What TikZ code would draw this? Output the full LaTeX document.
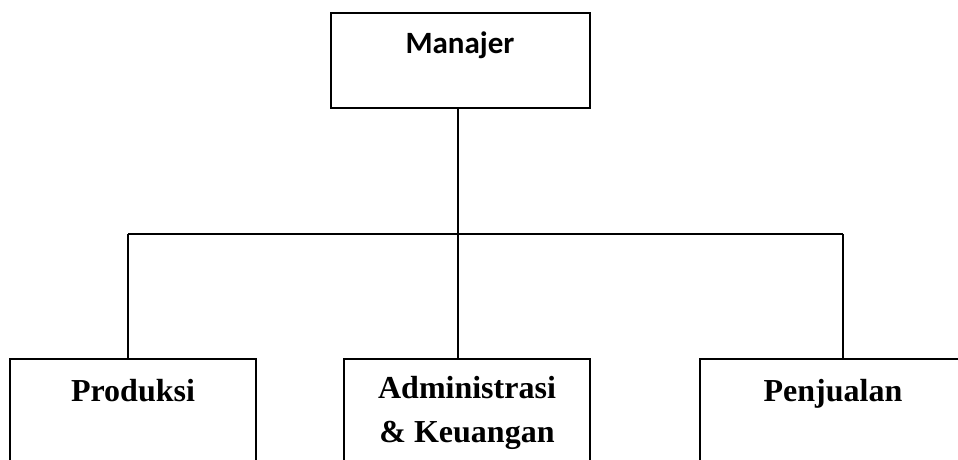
\documentclass[tikz,border=0pt]{standalone}
\usepackage{fontspec}
\setmainfont{Liberation Serif}
\newfontfamily\calib{Carlito}
\begin{document}
\begin{tikzpicture}[x=1pt,y=-1pt,
  box/.style={draw=black,line width=1.8pt,rectangle,inner sep=0pt,fill=white},
  conn/.style={draw=black,line width=1.8pt},
  toptext/.style={font=\calib\bfseries\fontsize{31}{36}\selectfont,anchor=base,inner sep=0pt},
  subtext/.style={font=\bfseries\fontsize{32}{44}\selectfont,anchor=base,inner sep=0pt,align=center}]
\useasboundingbox (0,0) rectangle (958,460);
\clip (0,0) rectangle (958,460);
\fill[white] (0,0) rectangle (958,460);
\node[box,minimum width=259pt,minimum height=95pt] (man) at (460.5,60.5) {};
\node[toptext] (mant) at (460,53) {Manajer};
\node[box,minimum width=246pt,minimum height=112pt] (prod) at (133,415) {};
\node[box,minimum width=246pt,minimum height=112pt] (adm) at (467,415) {};
\node[box,minimum width=266pt,minimum height=112pt] (penj) at (833,415) {};
\node[subtext] (prodt) at (133,401) {Produksi};
\node[subtext] (admt1) at (467,398) {Administrasi};
\node[subtext] (admt2) at (467,442) {\& Keuangan};
\node[subtext] (penjt) at (833,401) {Penjualan};
\coordinate (j) at (458,234);
\coordinate (bl) at (128,234);
\coordinate (br) at (843,234);
\draw[conn] (j |- man.south) -- (j);
\draw[conn] (bl) -- (br);
\draw[conn] (bl) -- (bl |- prod.north);
\draw[conn] (j) -- (j |- adm.north);
\draw[conn] (br) -- (br |- penj.north);
\end{tikzpicture}
\end{document}
